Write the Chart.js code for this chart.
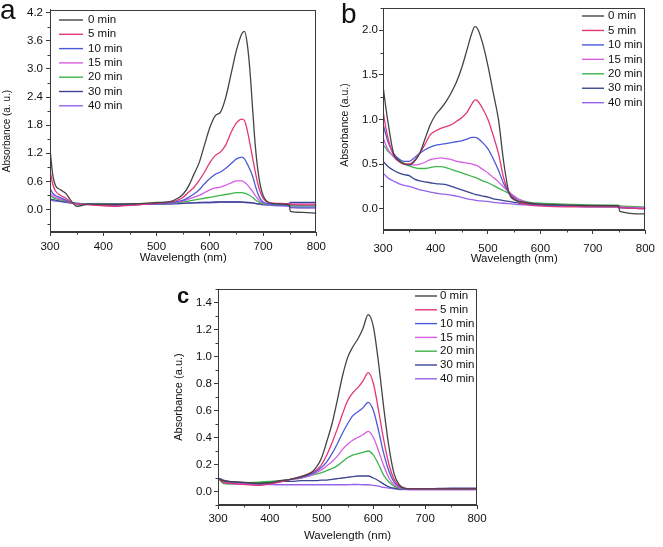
<!DOCTYPE html>
<html>
<head>
<meta charset="utf-8">
<script src="https://cdn.jsdelivr.net/npm/chart.js@4.4.1/dist/chart.umd.min.js"></script>
<style>
  body { margin: 0; background: #fff; }
  #page { position: relative; width: 663px; height: 547px; overflow: hidden; background: #fff; }
  canvas { position: absolute; }
</style>
</head>
<body>
<div id="page">
  <canvas id="chartA" width="330" height="270" style="left:0;top:0"></canvas>
  <canvas id="chartB" width="333" height="270" style="left:330px;top:0"></canvas>
  <canvas id="chartC" width="340" height="277" style="left:160px;top:270px"></canvas>
</div>
<script>
// series names and tick labels
const minutes = ['0 min', '5 min', '10 min', '15 min', '20 min', '30 min', '40 min'];
const xTicks = [300, 400, 500, 600, 700, 800];
const yTicksA = [0, 0.6, 1.2, 1.8, 2.4, 3.0, 3.6, 4.2];
const yTicksB = [0, 0.5, 1.0, 1.5, 2.0];
const yTicksC = [0, 0.2, 0.4, 0.6, 0.8, 1.0, 1.2, 1.4];

// panel a: wavelength (nm) and absorbance of each time
const waveA = [300, 305, 310, 320, 330, 340, 350, 375, 400, 425, 450, 475, 500, 525,
  540, 550, 560, 570, 580, 590, 600, 610, 620, 630, 640, 650, 660, 665,
  670, 675, 680, 685, 690, 695, 700, 710, 725, 749, 751, 775, 800];
const a0 = [1.3, 0.75, 0.52, 0.42, 0.34, 0.18, 0.07, 0.12, 0.11, 0.11, 0.12, 0.13, 0.15, 0.17,
  0.24, 0.33, 0.5, 0.75, 1.0, 1.38, 1.75, 2.0, 2.08, 2.4, 2.9, 3.4, 3.75, 3.8,
  3.55, 3.0, 2.2, 1.4, 0.85, 0.5, 0.3, 0.15, 0.12, 0.1, -0.04, -0.06, -0.08];
const a5 = [0.83, 0.55, 0.4, 0.3, 0.24, 0.15, 0.12, 0.1, 0.08, 0.07, 0.09, 0.11, 0.13, 0.16,
  0.2, 0.26, 0.37, 0.47, 0.62, 0.8, 1.0, 1.15, 1.23, 1.38, 1.65, 1.85, 1.93, 1.9,
  1.7, 1.42, 1.12, 0.82, 0.55, 0.36, 0.24, 0.15, 0.13, 0.12, 0.11, 0.1, 0.1];
const a10 = [0.45, 0.35, 0.3, 0.25, 0.2, 0.15, 0.12, 0.11, 0.1, 0.09, 0.1, 0.11, 0.12, 0.14,
  0.17, 0.2, 0.26, 0.33, 0.42, 0.55, 0.66, 0.75, 0.8, 0.88, 0.98, 1.08, 1.12, 1.08,
  0.98, 0.86, 0.72, 0.52, 0.34, 0.22, 0.16, 0.12, 0.1, 0.09, 0.05, 0.05, 0.05];
const a15 = [0.35, 0.3, 0.26, 0.22, 0.19, 0.15, 0.12, 0.11, 0.1, 0.1, 0.1, 0.11, 0.12, 0.14,
  0.16, 0.18, 0.22, 0.26, 0.3, 0.36, 0.42, 0.46, 0.48, 0.52, 0.57, 0.61, 0.61, 0.58,
  0.53, 0.46, 0.39, 0.3, 0.23, 0.17, 0.14, 0.12, 0.12, 0.12, 0.12, 0.12, 0.12];
const a20 = [0.3, 0.26, 0.23, 0.2, 0.18, 0.15, 0.13, 0.12, 0.11, 0.11, 0.11, 0.12, 0.12, 0.13,
  0.15, 0.16, 0.18, 0.2, 0.22, 0.24, 0.26, 0.28, 0.3, 0.32, 0.34, 0.36, 0.36, 0.35,
  0.33, 0.3, 0.26, 0.21, 0.17, 0.14, 0.12, 0.11, 0.1, 0.09, 0.08, 0.08, 0.08];
const a30 = [0.22, 0.21, 0.2, 0.18, 0.16, 0.14, 0.13, 0.12, 0.12, 0.12, 0.12, 0.12, 0.12, 0.12,
  0.13, 0.13, 0.14, 0.14, 0.15, 0.15, 0.15, 0.16, 0.16, 0.16, 0.16, 0.16, 0.16, 0.155,
  0.15, 0.15, 0.14, 0.13, 0.12, 0.12, 0.11, 0.11, 0.12, 0.13, 0.15, 0.15, 0.15];
const a40 = [0.2, 0.19, 0.18, 0.17, 0.15, 0.14, 0.13, 0.11, 0.1, 0.1, 0.1, 0.11, 0.11, 0.12,
  0.12, 0.13, 0.13, 0.14, 0.14, 0.15, 0.15, 0.15, 0.16, 0.16, 0.16, 0.16, 0.155, 0.15,
  0.15, 0.14, 0.14, 0.13, 0.12, 0.11, 0.1, 0.09, 0.08, 0.07, 0.04, 0.03, 0.03];

// panel b
const waveB = [300, 305, 310, 320, 330, 340, 350, 360, 370, 380, 390, 400, 410, 420,
  430, 440, 450, 460, 470, 475, 480, 490, 500, 510, 520, 530, 540, 550,
  560, 580, 600, 650, 700, 749, 751, 800];
const b0 = [1.38, 1.15, 0.95, 0.62, 0.54, 0.5, 0.49, 0.53, 0.62, 0.78, 0.94, 1.05, 1.12, 1.2,
  1.3, 1.42, 1.58, 1.78, 1.98, 2.04, 2.02, 1.85, 1.6, 1.3, 1.0, 0.52, 0.18, 0.1,
  0.08, 0.06, 0.05, 0.04, 0.035, 0.03, -0.03, -0.06];
const b5 = [1.1, 0.92, 0.78, 0.6, 0.53, 0.5, 0.5, 0.54, 0.62, 0.72, 0.83, 0.87, 0.9, 0.92,
  0.94, 0.98, 1.02, 1.08, 1.18, 1.22, 1.21, 1.12, 1.0, 0.82, 0.62, 0.34, 0.18, 0.11,
  0.07, 0.04, 0.03, 0.02, 0.02, 0.02, 0.01, 0.0];
const b10 = [0.95, 0.84, 0.74, 0.62, 0.56, 0.53, 0.53, 0.57, 0.62, 0.66, 0.69, 0.71, 0.72, 0.73,
  0.74, 0.75, 0.76, 0.78, 0.8, 0.8, 0.79, 0.74, 0.67, 0.56, 0.43, 0.28, 0.18, 0.12,
  0.08, 0.05, 0.04, 0.03, 0.02, 0.02, 0.01, 0.0];
const b15 = [0.8, 0.72, 0.66, 0.58, 0.53, 0.5, 0.49, 0.49, 0.5, 0.52, 0.55, 0.56, 0.57, 0.56,
  0.55, 0.53, 0.52, 0.51, 0.5, 0.49, 0.48, 0.44, 0.4, 0.35, 0.3, 0.24, 0.19, 0.14,
  0.1, 0.06, 0.05, 0.04, 0.03, 0.03, 0.02, 0.01];
const b20 = [0.72, 0.68, 0.64, 0.59, 0.55, 0.51, 0.48, 0.46, 0.45, 0.45, 0.46, 0.47, 0.47, 0.46,
  0.44, 0.42, 0.4, 0.38, 0.36, 0.35, 0.34, 0.31, 0.29, 0.26, 0.23, 0.2, 0.17, 0.13,
  0.1, 0.07, 0.06, 0.05, 0.04, 0.04, 0.03, 0.02];
const b30 = [0.53, 0.5, 0.47, 0.43, 0.4, 0.38, 0.37, 0.33, 0.31, 0.3, 0.29, 0.28, 0.275, 0.27,
  0.25, 0.23, 0.21, 0.19, 0.17, 0.16, 0.155, 0.14, 0.13, 0.11, 0.1, 0.09, 0.08, 0.07,
  0.06, 0.05, 0.04, 0.03, 0.03, 0.03, 0.02, 0.01];
const b40 = [0.4, 0.37, 0.34, 0.31, 0.28, 0.26, 0.25, 0.23, 0.21, 0.2, 0.185, 0.175, 0.165, 0.16,
  0.15, 0.14, 0.125, 0.11, 0.1, 0.095, 0.09, 0.085, 0.08, 0.07, 0.065, 0.06, 0.055, 0.05,
  0.045, 0.04, 0.035, 0.03, 0.025, 0.02, 0.01, 0.0];

// panel c
const waveC = [300, 310, 320, 340, 360, 380, 400, 420, 440, 460, 480, 490, 500, 510,
  520, 530, 540, 550, 560, 570, 580, 590, 600, 610, 620, 630, 640, 650,
  660, 670, 700, 750, 800];
const c0 = [0.1, 0.08, 0.075, 0.07, 0.065, 0.06, 0.065, 0.08, 0.09, 0.11, 0.14, 0.18, 0.25, 0.37,
  0.5, 0.67, 0.85, 0.99, 1.07, 1.13, 1.21, 1.31, 1.22, 0.95, 0.62, 0.33, 0.13, 0.05,
  0.025, 0.02, 0.02, 0.02, 0.02];
const c5 = [0.1, 0.07, 0.06, 0.055, 0.05, 0.045, 0.055, 0.07, 0.09, 0.11, 0.14, 0.16, 0.2, 0.27,
  0.36, 0.46, 0.57, 0.67, 0.73, 0.77, 0.82, 0.88, 0.8, 0.6, 0.38, 0.2, 0.09, 0.04,
  0.025, 0.02, 0.02, 0.02, 0.02];
const c10 = [0.1, 0.08, 0.07, 0.065, 0.06, 0.055, 0.06, 0.075, 0.09, 0.105, 0.13, 0.15, 0.18, 0.22,
  0.28, 0.35, 0.43, 0.5, 0.56, 0.59, 0.62, 0.66, 0.6, 0.45, 0.28, 0.15, 0.07, 0.035,
  0.02, 0.02, 0.02, 0.02, 0.02];
const c15 = [0.1, 0.075, 0.065, 0.06, 0.055, 0.05, 0.06, 0.075, 0.09, 0.1, 0.12, 0.14, 0.16, 0.19,
  0.22, 0.26, 0.31, 0.35, 0.38, 0.4, 0.42, 0.445, 0.4, 0.3, 0.19, 0.1, 0.05, 0.03,
  0.02, 0.015, 0.015, 0.015, 0.015];
const c20 = [0.1, 0.06, 0.055, 0.06, 0.065, 0.07, 0.075, 0.08, 0.09, 0.1, 0.12, 0.13, 0.14, 0.155,
  0.17, 0.19, 0.22, 0.25, 0.27, 0.28, 0.29, 0.3, 0.27, 0.2, 0.12, 0.07, 0.04, 0.025,
  0.02, 0.02, 0.02, 0.02, 0.02];
const c30 = [0.1, 0.085, 0.075, 0.07, 0.065, 0.065, 0.07, 0.075, 0.075, 0.08, 0.08, 0.08, 0.085, 0.085,
  0.09, 0.095, 0.1, 0.105, 0.11, 0.115, 0.115, 0.115, 0.1, 0.08, 0.055, 0.035, 0.025, 0.02,
  0.02, 0.02, 0.02, 0.025, 0.025];
const c40 = [0.1, 0.07, 0.06, 0.055, 0.055, 0.055, 0.052, 0.05, 0.05, 0.05, 0.05, 0.05, 0.05, 0.05,
  0.05, 0.05, 0.05, 0.05, 0.052, 0.052, 0.05, 0.05, 0.045, 0.04, 0.03, 0.025, 0.02, 0.015,
  0.015, 0.015, 0.015, 0.015, 0.015];

const lineColors = ['#444444', '#e2367a', '#4c5ad8', '#d65ee0', '#3db54a', '#3b4690', '#9563ec'];
const FONT = "'Liberation Sans', Arial, sans-serif";
const AXIS = '#3a3a3a';
const TEXT = '#111';

// box round the plot, minor ticks, y title, legend and panel letter
function panelPlugin(cfg) {
  return {
    id: 'panelDeco',
    afterDraw(chart) {
      const ctx = chart.ctx;
      const a = chart.chartArea;
      const xs = chart.scales.x, ys = chart.scales.y;
      ctx.save();
      ctx.strokeStyle = AXIS;
      ctx.lineWidth = 1;
      ctx.strokeRect(Math.round(a.left) + 0.5, Math.round(a.top) + 0.5,
        Math.round(a.right - a.left) - 1, Math.round(a.bottom - a.top) - 1);

      ctx.beginPath();
      for (let v = 350; v < 800; v += 100) {
        const px = Math.round(xs.getPixelForValue(v)) + 0.5;
        ctx.moveTo(px, a.bottom);
        ctx.lineTo(px, a.bottom + 2.5);
      }
      const k0 = Math.ceil(cfg.yMin / cfg.yMinor - 1e-6), k1 = Math.floor(cfg.yMax / cfg.yMinor + 1e-6);
      for (let k = k0; k <= k1; k++) {
        if (k % 2 === 0) continue;
        const py = Math.round(ys.getPixelForValue(k * cfg.yMinor)) + 0.5;
        ctx.moveTo(a.left, py);
        ctx.lineTo(a.left - 2.5, py);
      }
      ctx.stroke();

      // y axis title
      const yt = cfg.yTitle;
      ctx.save();
      ctx.translate(yt.x, yt.y);
      ctx.rotate(-Math.PI / 2);
      ctx.font = yt.size + 'px ' + FONT;
      ctx.fillStyle = TEXT;
      ctx.textAlign = 'center';
      ctx.textBaseline = 'middle';
      ctx.fillText(yt.text, 0, 0);
      ctx.restore();

      const lg = cfg.legend;
      ctx.font = '11.5px ' + FONT;
      ctx.textBaseline = 'middle';
      ctx.textAlign = 'left';
      chart.data.datasets.forEach((ds, i) => {
        const y = lg.y + i * lg.dy;
        ctx.strokeStyle = ds.borderColor;
        ctx.lineWidth = 1.4;
        ctx.beginPath();
        ctx.moveTo(lg.x, y);
        ctx.lineTo(lg.x + lg.len, y);
        ctx.stroke();
        ctx.fillStyle = TEXT;
        ctx.fillText(ds.label, lg.x + lg.len + lg.gap, y);
      });

      ctx.fillStyle = TEXT;
      ctx.textBaseline = 'alphabetic';
      ctx.font = cfg.tag.font + ' ' + FONT;
      ctx.fillText(cfg.tag.text, cfg.tag.x, cfg.tag.y);
      ctx.restore();
    }
  };
}

function makePanel(id, waves, series, yTicks, cfg) {
  const ctx = document.getElementById(id);
  return new Chart(ctx, {
    type: 'line',
    data: {
      datasets: series.map((ys, i) => ({
        label: minutes[i],
        data: waves.map((w, j) => ({ x: w, y: ys[j] })),
        borderColor: lineColors[i],
        borderWidth: 1.3,
        pointRadius: 0,
        fill: false,
        cubicInterpolationMode: 'monotone'
      }))
    },
    options: {
      responsive: false,
      animation: false,
      layout: { padding: cfg.pad },
      plugins: { legend: { display: false }, tooltip: { enabled: false } },
      scales: {
        x: {
          type: 'linear', min: 300, max: 800,
          afterBuildTicks: s => { s.ticks = xTicks.map(v => ({ value: v })); },
          afterFit: s => { s.height = cfg.xh; },
          grid: { drawOnChartArea: false, tickLength: 4, color: AXIS },
          border: { color: AXIS, width: 1 },
          ticks: { autoSkip: false, maxRotation: 0, padding: cfg.xTickPad, color: TEXT,
            font: { family: FONT, size: 11.5 }, callback: v => String(v) },
          title: { display: true, text: 'Wavelength (nm)', color: TEXT,
            font: { family: FONT, size: 11.5 }, padding: { top: 0, bottom: cfg.xTitlePad } }
        },
        y: {
          type: 'linear', min: cfg.yMin, max: cfg.yMax,
          afterBuildTicks: s => { s.ticks = yTicks.map(v => ({ value: v })); },
          afterFit: s => { s.width = cfg.yw; },
          grid: { drawOnChartArea: false, tickLength: 4, color: AXIS },
          border: { color: AXIS, width: 1 },
          ticks: { autoSkip: false, padding: cfg.yTickPad, color: TEXT,
            font: { family: FONT, size: 11.5 }, callback: v => v.toFixed(1) },
          title: { display: false }
        }
      }
    },
    plugins: [panelPlugin(cfg)]
  });
}

makePanel('chartA', waveA, [a0, a5, a10, a15, a20, a30, a40], yTicksA, {
  pad: { top: 8, right: 13, left: 0, bottom: 0 }, yw: 50, xh: 38,
  yMin: -0.48, yMax: 4.26, yMinor: 0.3,
  yTitle: { text: 'Absorbance (a. u.)', size: 10, x: 7.5, y: 131 },
  yTickPad: 3, xTickPad: 4, xTitlePad: 5,
  legend: { x: 59, y: 20, dy: 14.3, len: 24, gap: 5 },
  tag: { text: 'a', x: 0, y: 19, font: '28px' }
});

makePanel('chartB', waveB, [b0, b5, b10, b15, b20, b30, b40], yTicksB, {
  pad: { top: 8, right: 14, left: 0, bottom: 0 }, yw: 53, xh: 40,
  yMin: -0.24, yMax: 2.25, yMinor: 0.25,
  yTitle: { text: 'Absorbance (a.u.)', size: 10.5, x: 15, y: 125 },
  yTickPad: 1, xTickPad: 8, xTitlePad: 4,
  legend: { x: 252, y: 16, dy: 14.45, len: 22, gap: 4 },
  tag: { text: 'b', x: 11, y: 23, font: '28px' }
});

makePanel('chartC', waveC, [c0, c5, c10, c15, c20, c30, c40], yTicksC, {
  pad: { top: 19, right: 23, left: 0, bottom: 0 }, yw: 58, xh: 42,
  yMin: -0.1, yMax: 1.5, yMinor: 0.1,
  yTitle: { text: 'Absorbance (a.u.)', size: 11, x: 18.5, y: 127 },
  yTickPad: 2, xTickPad: 3, xTitlePad: 4,
  legend: { x: 255, y: 26, dy: 13.8, len: 22, gap: 3 },
  tag: { text: 'c', x: 17, y: 33, font: 'bold 22px' }
});
</script>
</body>
</html>
